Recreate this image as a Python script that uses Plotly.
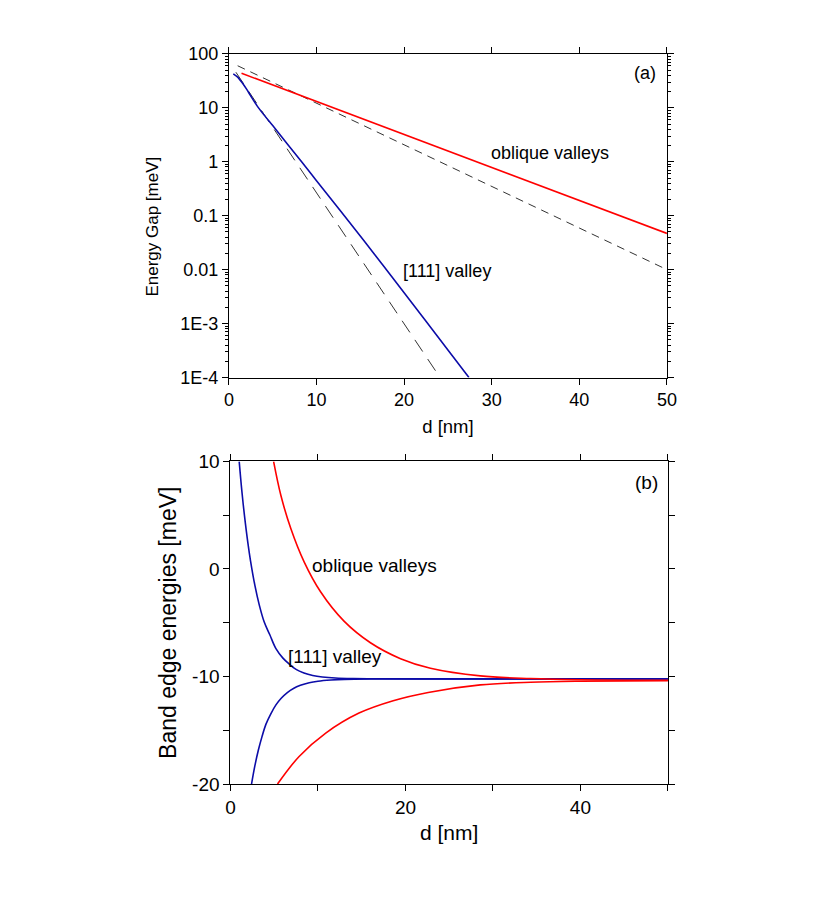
import plotly.graph_objects as go

# ---- panel (a): energy gap vs slab thickness (log scale) ----
d_111 = [0.5, 1.0, 1.5, 2.0, 2.5, 3.2, 4.0, 5.0, 8.3, 10.0, 15.4, 20.0, 25.0, 27.4]
gap_111 = [42.7, 37.2, 29.5, 22.4, 16.6, 11.0, 7.4, 4.68, 1.0, 0.447, 0.0347, 0.00372, 3.24e-4, 1e-4]
d_obl = [1.44, 50.0]
gap_obl = [43.7, 0.047]
# dashed asymptotic fits
d_fit_111 = [0.8, 24.1]
gap_fit_111 = [45.7, 1e-4]
d_fit_obl = [1.0, 50.0]
gap_fit_obl = [60.3, 0.01]

gap_tickvals = [1e-4, 1e-3, 0.01, 0.1, 1, 10, 100]
gap_ticktext = ["1E-4", "1E-3", "0.01", "0.1", "1", "10", "100"]

# ---- panel (b): band edge energies ----
d_111_up = [1.0, 1.3, 1.6, 2.0, 2.3, 2.8, 3.3, 3.85, 4.5, 5.2, 6.0, 6.7, 7.5, 8.4,
            9.4, 10.5, 12, 14, 17, 22, 30, 40, 50]
e_111_up = [10.0, 7.28, 4.98, 2.38, 0.74, -1.55, -3.36, -4.91, -6.12, -7.41, -8.29, -8.83,
            -9.34, -9.67, -9.90, -10.04, -10.14, -10.19, -10.21, -10.22, -10.22, -10.22, -10.22]
d_111_lo = [2.41, 2.8, 3.2, 3.6, 4.05, 4.6, 5.2, 5.8, 6.5, 7.2, 8.0, 9.0, 10.0, 11.5,
            13, 16, 20, 30, 40, 50]
e_111_lo = [-20.0, -18.27, -16.81, -15.61, -14.45, -13.49, -12.64, -12.02, -11.49, -11.11,
            -10.82, -10.58, -10.44, -10.33, -10.27, -10.23, -10.22, -10.22, -10.22, -10.22]
d_obl_up = [4.93, 5.76, 6.9, 8.42, 10.3, 12.98, 16.0, 19.44, 22.86, 28.56, 34.3, 40, 50]
e_obl_up = [10.0, 6.85, 3.76, 0.66, -2.12, -4.85, -6.86, -8.34, -9.23, -9.94, -10.19, -10.30, -10.35]
d_obl_lo = [5.38, 7.85, 10.89, 14.69, 18.6, 22.6, 28.56, 34.3, 40, 50]
e_obl_lo = [-20.0, -17.43, -15.26, -13.4, -12.25, -11.48, -10.78, -10.53, -10.44, -10.40]

band_tickvals = [-20, -10, 0, 10]
band_ticktext = ["-20", "-10", "0", "10"]

RED = "#ff0000"
BLUE = "#0c0ca8"
FONT = "Liberation Sans, Arial, sans-serif"

fig = go.Figure()

# panel (a)
fig.add_trace(go.Scatter(x=d_fit_obl, y=gap_fit_obl, mode="lines",
                         line=dict(color="#333333", width=1, dash="8px,6px"), xaxis="x", yaxis="y"))
fig.add_trace(go.Scatter(x=d_fit_111, y=gap_fit_111, mode="lines",
                         line=dict(color="#333333", width=1, dash="14px,9px"), xaxis="x", yaxis="y"))
fig.add_trace(go.Scatter(x=d_obl, y=gap_obl, mode="lines",
                         line=dict(color=RED, width=1.6), xaxis="x", yaxis="y"))
fig.add_trace(go.Scatter(x=d_111, y=gap_111, mode="lines", line_shape="spline",
                         line=dict(color=BLUE, width=1.6, smoothing=0.6), xaxis="x", yaxis="y"))

# panel (b)
for xs, ys, col in [(d_111_up, e_111_up, BLUE), (d_111_lo, e_111_lo, BLUE),
                    (d_obl_up, e_obl_up, RED), (d_obl_lo, e_obl_lo, RED)]:
    fig.add_trace(go.Scatter(x=xs, y=ys, mode="lines", line_shape="spline",
                             line=dict(color=col, width=1.6), xaxis="x2", yaxis="y2"))

axis_common = dict(showline=True, linecolor="black", linewidth=1.1, mirror="allticks",
                   ticks="outside", ticklen=6, tickcolor="black", tickwidth=1,
                   showgrid=False, zeroline=False)

fig.update_layout(
    width=830, height=905,
    margin=dict(l=0, r=0, t=0, b=0),
    paper_bgcolor="white", plot_bgcolor="white",
    showlegend=False,
    font=dict(family=FONT, color="black", size=17),
    xaxis=dict(domain=[0.2649, 0.8024], anchor="y", range=[0, 50], dtick=10,
               tickfont=dict(size=18),
               title=dict(text="d [nm]", font=dict(size=18.5), standoff=10),
               **axis_common),
    yaxis=dict(domain=[0.5933, 0.9594], anchor="x", type="log", range=[-4, 2],
               tickmode="array", tickvals=gap_tickvals, ticktext=gap_ticktext,
               tickfont=dict(size=18),
               minor=dict(ticks="outside", ticklen=3, dtick="D1", tickcolor="black", showgrid=False),
               **axis_common),
    xaxis2=dict(domain=[0.2668, 0.8036], anchor="y2", range=[0, 50], dtick=20,
                tickfont=dict(size=19),
                minor=dict(ticks="outside", ticklen=6, dtick=10, tickcolor="black", showgrid=False),
                title=dict(text="d [nm]", font=dict(size=21), standoff=8),
                **axis_common),
    yaxis2=dict(domain=[0.1334, 0.4984], anchor="x2", range=[-20, 10],
                tickmode="array", tickvals=band_tickvals, ticktext=band_ticktext,
                tickfont=dict(size=19),
                minor=dict(ticks="outside", ticklen=6, tickmode="linear", tick0=0, dtick=5,
                           tickcolor="black", showgrid=False),
                title=dict(text="Band edge energies [meV]", font=dict(size=23), standoff=9),
                **axis_common),
)

# y title of panel (a) sits a little below the axis centre
fig.add_annotation(x=0.1707, y=-1.2, xref="paper", yref="y", text="Energy Gap [meV]",
                   textangle=-90, showarrow=False, xanchor="center", yanchor="middle",
                   font=dict(size=17, family=FONT, color="black"))

ann = [
    dict(x=47.5, y=1.654, xref="x", yref="y", text="(a)", size=18),
    dict(x=36.6, y=0.154, xref="x", yref="y", text="oblique valleys", size=18),
    dict(x=24.9, y=-2.03, xref="x", yref="y", text="[111] valley", size=18),
    dict(x=47.5, y=8.08, xref="x2", yref="y2", text="(b)", size=19),
    dict(x=16.5, y=0.35, xref="x2", yref="y2", text="oblique valleys", size=19),
    dict(x=11.9, y=-8.1, xref="x2", yref="y2", text="[111] valley", size=19),
]
for a in ann:
    fig.add_annotation(x=a["x"], y=a["y"], xref=a["xref"], yref=a["yref"], text=a["text"],
                       showarrow=False, font=dict(size=a["size"], family=FONT, color="black"))

fig.write_html("out.html")
